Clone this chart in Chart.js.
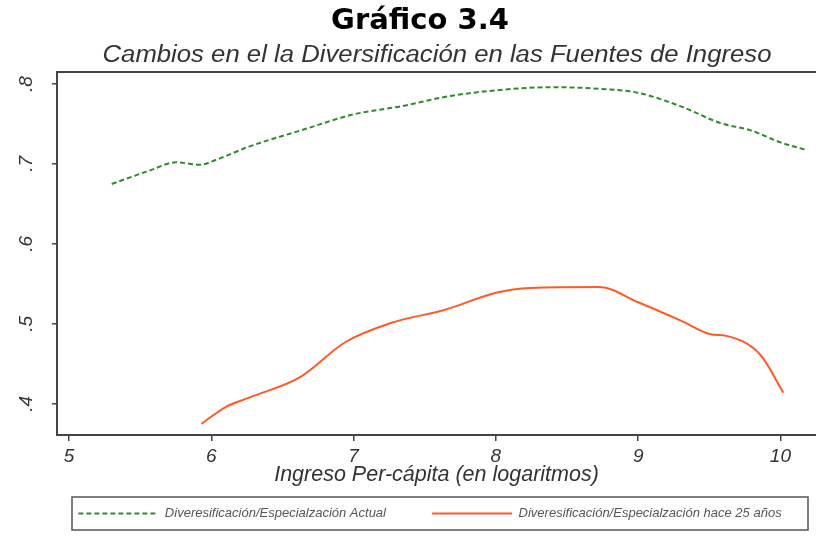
<!DOCTYPE html>
<html>
<head>
<meta charset="utf-8">
<script src="https://cdn.jsdelivr.net/npm/chart.js@4"></script>
<style>
  html, body { margin: 0; padding: 0; background: #fff; }
  #wrap { width: 816px; height: 536px; }
</style>
</head>
<body>
<div id="wrap"><canvas id="grafico"></canvas></div>
<script>
"use strict";
var ingresoActual = [5.30, 5.57, 5.75, 5.92, 6.03, 6.27, 6.63, 7.00, 7.33, 7.68, 8.00, 8.38, 8.73, 9.00, 9.30, 9.58, 9.79, 10.00, 10.17];
var diversActual = [0.675, 0.692, 0.702, 0.699, 0.705, 0.722, 0.742, 0.762, 0.772, 0.785, 0.792, 0.796, 0.794, 0.789, 0.772, 0.751, 0.742, 0.727, 0.718];
var ingresoPasado = [5.93, 6.10, 6.27, 6.63, 6.94, 7.26, 7.65, 8.00, 8.24, 8.73, 9.00, 9.30, 9.51, 9.62, 9.86, 10.02];
var diversPasado = [0.375, 0.396, 0.408, 0.434, 0.477, 0.501, 0.518, 0.539, 0.545, 0.546, 0.527, 0.504, 0.487, 0.485, 0.461, 0.414];
var ticksX = [5, 6, 7, 8, 9, 10];
var ticksY = [0.4, 0.5, 0.6, 0.7, 0.8];

var titulo = "Gráfico 3.4";
var subtitulo = "Cambios en el la Diversificación en las Fuentes de Ingreso";
var etiquetas = ["Diveresificación/Especialzación Actual", "Diveresificación/Especialzación hace 25 años"];

function puntos(xs, ys) {
  return xs.map(function (x, i) { return { x: x, y: ys[i] }; });
}

// titulos y recuadro de la leyenda
var marco = {
  id: "marco",
  afterLayout: function (chart) {
    var lg = chart.legend;
    lg.left = 62;
    lg.right = 798;
    lg.width = 736;
  },
  afterDraw: function (chart) {
    var ctx = chart.ctx, lg = chart.legend;
    ctx.save();
    ctx.strokeStyle = "#555";
    ctx.lineWidth = 1.5;
    ctx.strokeRect(72, lg.top, 736, lg.bottom - lg.top);
    ctx.textAlign = "center";
    ctx.textBaseline = "middle";
    ctx.fillStyle = "#000";
    ctx.font = 'bold 29px "DejaVu Sans"';
    ctx.fillText(titulo, 420, 21);
    // el subtitulo original viene algo estirado a lo ancho
    ctx.fillStyle = "#333";
    ctx.font = 'italic 23px "Liberation Sans"';
    ctx.textBaseline = "alphabetic";
    var w = ctx.measureText(subtitulo).width;
    ctx.translate(437, 62);
    ctx.scale(669 / w, 1);
    ctx.fillText(subtitulo, 0, 0);
    ctx.restore();
  }
};

var ejeColor = "#444";
var textoColor = "#333";

var ctx = document.getElementById("grafico");
var grafico = new Chart(ctx, {
  type: "line",
  data: {
    datasets: [
      {
        label: etiquetas[0],
        data: puntos(ingresoActual, diversActual),
        borderColor: "#2e8b2e",
        borderWidth: 2,
        borderDash: [5, 3],
        pointRadius: 0,
        pointStyle: "line",
        cubicInterpolationMode: "monotone",
        fill: false
      },
      {
        label: etiquetas[1],
        data: puntos(ingresoPasado, diversPasado),
        borderColor: "#ff5a28",
        borderWidth: 2,
        pointRadius: 0,
        pointStyle: "line",
        cubicInterpolationMode: "monotone",
        fill: false
      }
    ]
  },
  options: {
    responsive: true,
    maintainAspectRatio: false,
    animation: false,
    layout: { padding: { top: 72, bottom: 6, left: 0, right: 0 } },
    plugins: {
      title: { display: false },
      tooltip: { enabled: false },
      legend: {
        position: "bottom",
        labels: {
          usePointStyle: true,
          pointStyleWidth: 80,
          padding: 10,
          color: "#555",
          font: { family: '"Liberation Sans"', size: 13, style: "italic" },
          generateLabels: function (chart) {
            var items = Chart.defaults.plugins.legend.labels.generateLabels(chart);
            items.forEach(function (it, i) {
              var ds = chart.data.datasets[i];
              it.strokeStyle = ds.borderColor;
              it.lineWidth = ds.borderWidth;
              it.lineDash = ds.borderDash || [];
            });
            items[0].text = items[0].text + "          ";
            return items;
          }
        }
      }
    },
    scales: {
      x: {
        type: "linear",
        min: 4.915,
        max: 10.25,
        afterBuildTicks: function (s) { s.ticks = ticksX.map(function (v) { return { value: v }; }); },
        afterFit: function (s) { s.height = 62; },
        ticks: {
          color: textoColor,
          padding: 4,
          font: { family: '"Liberation Sans"', size: 19, style: "italic" }
        },
        grid: { drawOnChartArea: false, tickLength: 6, color: ejeColor, lineWidth: 1.5 },
        border: { color: ejeColor, width: 2 },
        title: {
          display: true,
          text: "Ingreso Per-cápita (en logaritmos)",
          color: textoColor,
          padding: { top: 0, bottom: 9 },
          font: { family: '"Liberation Sans"', size: 21.5, style: "italic" }
        }
      },
      arriba: {
        type: "linear",
        position: "top",
        min: 4.915,
        max: 10.25,
        afterFit: function (s) { s.height = 0; },
        ticks: { display: false },
        grid: { display: false },
        border: { color: ejeColor, width: 2 }
      },
      y: {
        min: 0.361,
        max: 0.815,
        afterBuildTicks: function (s) { s.ticks = ticksY.map(function (v) { return { value: v }; }); },
        afterFit: function (s) { s.width = 57; },
        ticks: {
          color: textoColor,
          minRotation: 90,
          maxRotation: 90,
          crossAlign: "center",
          padding: 17,
          font: { family: '"Liberation Sans"', size: 19, style: "italic" },
          callback: function (v) { return v.toFixed(1).replace(/^0/, ""); }
        },
        grid: { drawOnChartArea: false, tickLength: 5, color: ejeColor, lineWidth: 1.5 },
        border: { color: ejeColor, width: 2 }
      }
    }
  },
  plugins: [marco]
});
</script>
</body>
</html>
